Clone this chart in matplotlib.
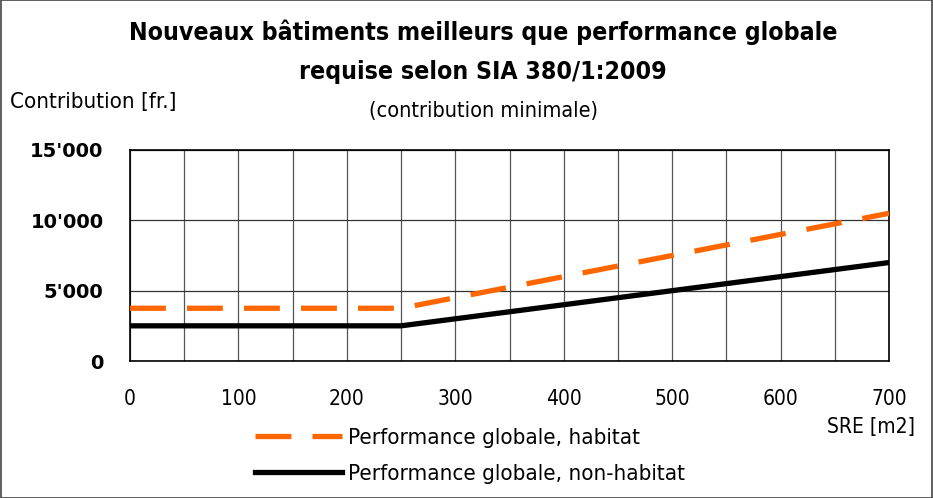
import matplotlib
matplotlib.use("Agg")
import matplotlib.pyplot as plt
from matplotlib.ticker import FuncFormatter
from matplotlib.lines import Line2D
from matplotlib.font_manager import FontProperties

sre = [0, 250, 700]
habitat = [3750, 3750, 10500]
non_habitat = [2500, 2500, 7000]
x_ticks = [0, 100, 200, 300, 400, 500, 600, 700]
y_ticks = [0, 5000, 10000, 15000]
labels = ["Performance globale, habitat", "Performance globale, non-habitat"]

def nf(size, weight='normal'):
    return FontProperties(family='DejaVu Sans', stretch='condensed', size=size, weight=weight)

fig = plt.figure(figsize=(9.33, 4.98), dpi=100)
ax = fig.add_axes([130/933, 1-361/498, (889-130)/933, (361-150)/498])

DASH = (6.8, 4.0)
ax.plot(sre, habitat, color='#ff6600', lw=3.8, dashes=DASH, dash_capstyle='butt', zorder=3)
ax.plot(sre, non_habitat, color='black', lw=3.8, zorder=4)

ax.set_xlim(0, 700)
ax.set_ylim(0, 15000)
ax.set_xticks(x_ticks)
ax.set_xticks(range(50, 701, 100), minor=True)
ax.set_yticks(y_ticks)
ax.grid(True, which='both', axis='x', color='#555555', lw=0.9)
ax.grid(True, which='major', axis='y', color='#333333', lw=0.9)
ax.tick_params(which='both', length=0)
ax.tick_params(axis='x', pad=20.5)
ax.tick_params(axis='y', pad=19)
for s in ax.spines.values():
    s.set_color('black'); s.set_linewidth(1.2)
ax.yaxis.set_major_formatter(FuncFormatter(lambda v, p: f"{int(v):,}".replace(",", "'")))
for t in ax.get_xticklabels():
    t.set_fontproperties(nf(15))
for t in ax.get_yticklabels():
    t.set_fontproperties(FontProperties(family='DejaVu Sans', size=14, weight='bold'))

fig.text(483/933, 1-32/498, "Nouveaux bâtiments meilleurs que performance globale", ha='center', va='center',
         fontproperties=nf(17.8, 'bold'))
fig.text(483/933, 1-72/498, "requise selon SIA 380/1:2009", ha='center', va='center',
         fontproperties=nf(17.8, 'bold'))
fig.text(483/933, 1-111/498, "(contribution minimale)", ha='center', va='center', fontproperties=nf(15.5))
fig.text(10/933, 1-102/498, "Contribution [fr.]", ha='left', va='center', fontproperties=nf(16))
fig.text(915/933, 1-427/498, "SRE [m2]", ha='right', va='center', fontproperties=nf(15))

handles = [Line2D([], [], color='#ff6600', lw=3.8, dashes=DASH, dash_capstyle='butt'),
           Line2D([], [], color='black', lw=3.8)]
fig.legend(handles, labels, loc='upper left', bbox_to_anchor=(255/933, 1-428/498), frameon=False,
           prop=nf(16), handlelength=3.9, handletextpad=0.3, labelspacing=0.72,
           borderpad=0, borderaxespad=0)

fig.patches.append(plt.Rectangle((0.001, 0.001), 0.998, 0.998, transform=fig.transFigure,
                                 fill=False, edgecolor='#444444', lw=1.2))
fig.savefig("out.png", dpi=100)
